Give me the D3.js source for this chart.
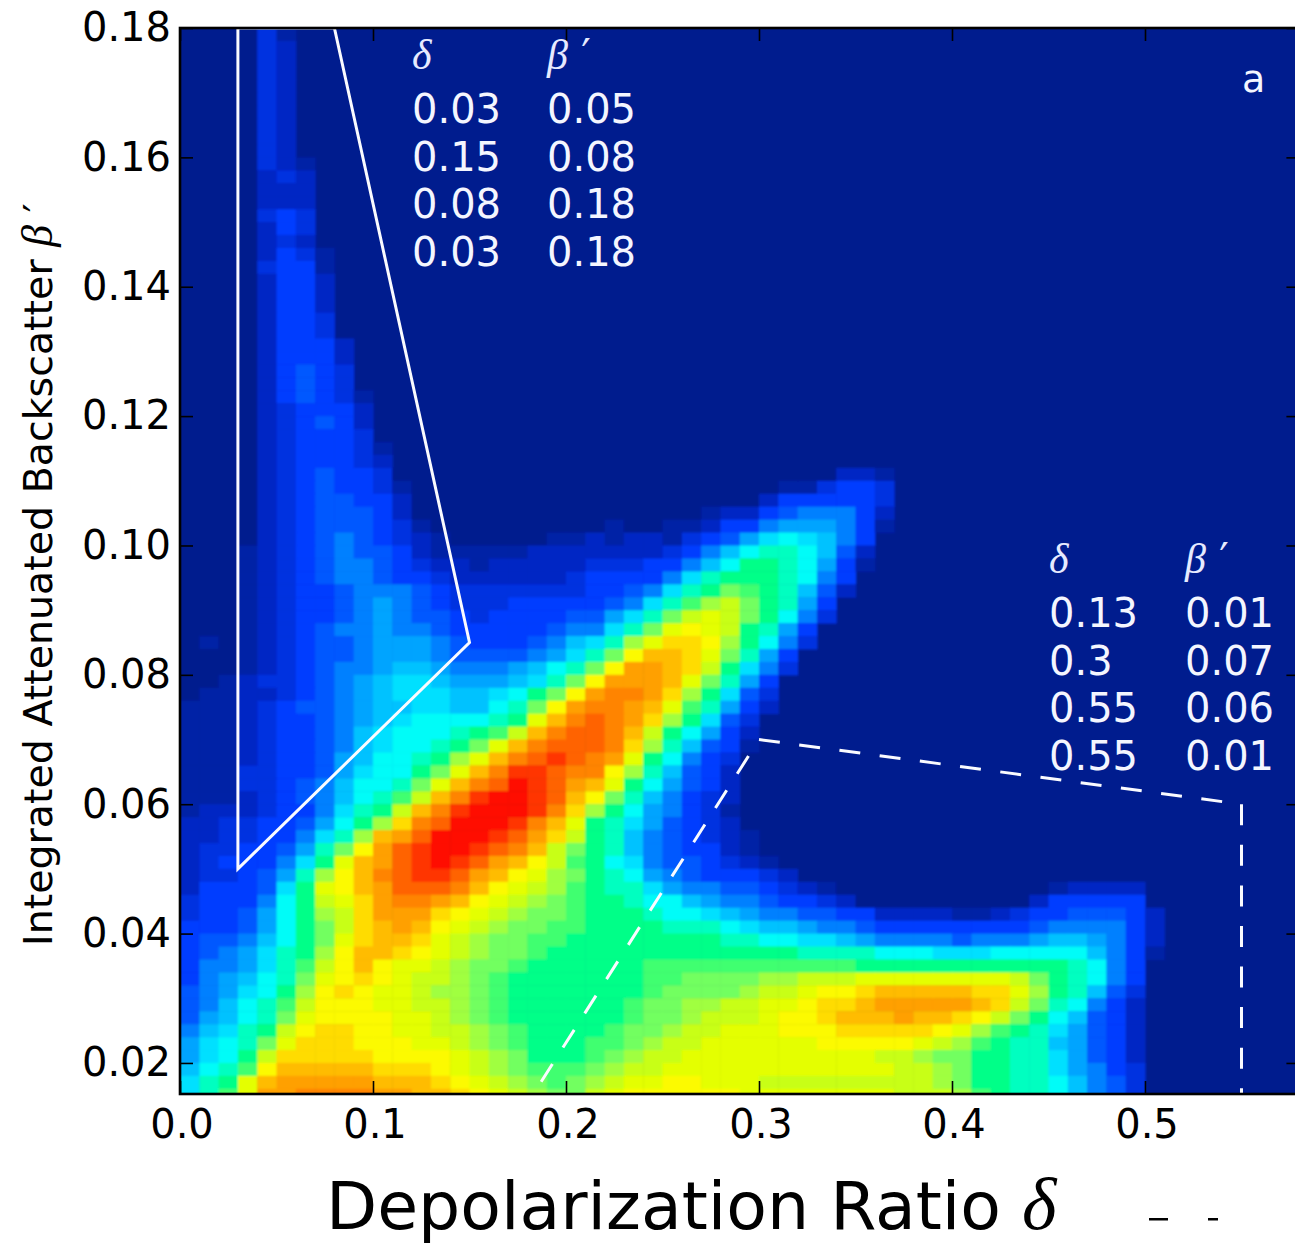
<!DOCTYPE html>
<html>
<head>
<meta charset="utf-8">
<script src="https://d3js.org/d3.v7.min.js"></script>
<style>
  html, body { margin: 0; padding: 0; background: #fff; overflow: hidden; }
  text { font-family: "DejaVu Sans", sans-serif; }
  .math { font-family: "Liberation Serif", serif; font-style: italic; }
</style>
</head>
<body>
<div id="my_dataviz"></div>
<script>
// bin counts, one string per row, top row first.
// each char is one 0.01 wide column: "." is empty, a..z is 0..25 on the colour scale
const heatRows = [
"....db",
"....dc",
"....dc",
"....dc",
"....dc",
"....dc",
"....dc",
"....dc",
"....dc",
"....dc",
"....dcb",
"....cdc",
"....ccc",
"....ccc",
"....ded",
"....ced",
"....cdc",
"....cedb",
"....deeb",
"....ceec",
"....ceec",
"....ceec",
"....ceed",
"....ceed",
"....ceeec",
"....ceeec",
"....cefed",
"....cefed",
"....cefedb",
"....cdeeec",
"....cdefec",
"....cdeeed",
"....cdeeedb",
"....cdeeedc",
"....cdefeed.........." + ".............ccb",
"....cdefeedb........." + "..........bbdeed",
"....cdeffeec........." + ".........ceeeeed",
"....cdefffec........." + "......bccefgggec",
"....cdefffedb........" + ".b..bbceeghhhgeb",
"....cdefgfedcb.....bb" + "cbccbdefhjkjige",
"...bcdefgffecbbbbbccc" + "ccccdegikllkifc",
"...bcdefggfedccbccccc" + "dddeegikmmlkheb",
"...bcdefggfeedccccccd" + "eeeegjlmmmlkge",
"...bcdeefgggfeddddddd" + "eefgjlmonmlifc",
"...bcdeefghgfedddeeee" + "efgjlnpqomlhe",
"...bcdeefghgffedeeeef" + "fhjloqrqomkgd",
"...bcdefgghggfeeeeefg" + "gjlorsrqmlhe",
".b.bcdeffghhhgfeeefgi" + "jlprttspmkgd",
"...bcdeffghhhgffffghj" + "losuutrolhe",
"...bcdefgghiihggghikl" + "osvvutqmjgd",
"..bcddefghijjihhhijlo" + "svvvurolhe",
".bbccdefghijjjiijkmos" + "vwwvtpmjfd",
"bbbcdeffghiijjiiklosv" + "wwvurnlhec",
"bbbcdeefghijkkkklmruw" + "xwvtpmjfd",
"bbbcdeefgijkkklmnquwx" + "xwuqmkhec",
"bbbcdeefgijkklmoruwxx" + "xwtplifeb",
"bbbcdeefhikklmpruwxyx" + "wvrmkged",
"bbbddeefhjkkmoruwyyxw" + "wsplifec",
"bbbddefgikkloruwxzyxv" + "urmkhfec",
"bbbcdefgiklnquwyzzyxu" + "soligedc",
"bcccdeegjlmquwyzzzywt" + "pmkhgedb",
"ccddeefhkmptwxzzzywur" + "mljhfedc",
"ccddeegjlpuvxzzzyxvtq" + "mligfedcb",
"cddeefhlosvxyzzyxwuqo" + "mligfeecb",
"cdeeegjmruvxyzyxvusqn" + "mkjgffedcb",
"cddefhlpsuwxyyxvusrpo" + "mlkhgfeeedc",
"ceeefjmrsuvxxxwusrqpn" + "mlljhggffedcb...........bcccc",
"deeegkmqrtvwwvusrqpon" + "mmlkkihggfeedc.........ceeeee",
"deefhkmpqtvvvtsrqpoon" + "mmmlkkjihggffeeccccbbcdeefffec",
"eeefhkmoqtuvusrqpoonn" + "mmmmlllkjiihggfeeeeeeeefggggec",
"effgikmortuutrqpoonnm" + "mmmmmmmllkkjjihggggfggghiihgec",
"efghjlmpsuutsrqpoonmm" + "mmmmmmmmmmmllllkkkjjjkkkkkigeb",
"egghjlnqsusrrqpoonmmm" + "mmmnnnnnnnnnnnmmmmmmmmmmmlkge",
"eghiklorstsrqqponmmmm" + "mmmnnooooppqqqrrrrrrrrqomlkge",
"fghjkmpstsrrqpponmmmm" + "mmmnoooopqqrsstuuuuuttrpmlifd",
"fgiklnqsssrrqqponmmmm" + "mmnooppqqrrsttuvvvvvutqolkgec",
"fhiklorssssrrqponmmmm" + "mmnoopqqqrsstuuuvuutsqomkifec",
"gijlmqsttssrrqqponmmm" + "mnoopqqrrrssstttttsrpnmljhfec",
"hjklortttsssrrqponmmm" + "nnopqqrrrrrrsssssrqpnmllihfec",
"hjkmqtttttssssrqpommm" + "nopqqrrrrrrrrrrqqpoommlljhfec",
"iklnsuuuuutttsrqponnn" + "opqqrrrrrrrrrrrrqqpommlljhged",
"jlmruvvvvvuuutsrqpono" + "pqrrssrrrqqqqqqqqqpommllkigfd",
"jlnrvvwwwwvvuutsrqpoo" + "qrssssssrrrrrrrrqqqpnmllkigfd"
];

// lower edge of the bottom row and the bin sizes
const binStartY = 0.014, binH = 0.002, binW = 0.01;

const xTicks = [0, 0.1, 0.2, 0.3, 0.4, 0.5];
const yTicks = [0.02, 0.04, 0.06, 0.08, 0.10, 0.12, 0.14, 0.16, 0.18];

// the two selection boxes as they are drawn
const solidDelta = [0.03, 0.15, 0.08, 0.03];
const solidBeta = [0.05, 0.085, 0.18, 0.18];
const dashDelta = [0.3, 0.55, 0.55];
const dashBeta = [0.07, 0.06, 0.01];
const dashFootDelta = [0.3, 0.172];
const dashFootBeta = [0.07, 0.01];

// tables printed inside the plot
const table1Delta = ["0.03", "0.15", "0.08", "0.03"];
const table1Beta = ["0.05", "0.08", "0.18", "0.18"];
const table2Delta = ["0.13", "0.3", "0.55", "0.55"];
const table2Beta = ["0.01", "0.07", "0.06", "0.01"];

// one colour per level a..z, matched by eye to the jet map in the source
const colours = ["#001a8e", "#0021a6", "#0028c4", "#0030e0", "#003cff", "#0058ff",
    "#0080ff", "#00a4ff", "#00c2ff", "#00e0ff", "#00fcf8", "#00ffc0", "#00ff88",
    "#40ff70", "#72ff60", "#a0ff40", "#c8ff14", "#e4ff00", "#fcfa00", "#ffdc00",
    "#ffbc00", "#ffa000", "#ff8400", "#ff6400", "#ff3400", "#ff0800"];

var margin = {top: 28, right: -4.4, bottom: 150, left: 180},
    width_graph = 1295 - margin.left - margin.right,
    height_graph = 1244 - margin.top - margin.bottom;

var svg = d3.select("#my_dataviz")
  .append("svg")
    .attr("width", 1295)
    .attr("height", 1244)
    .style("display", "block");

var defs = svg.append("defs");

// the source is an upscaled bitmap, so the cells have soft edges
defs.append("filter")
    .attr("id", "softCells")
    .attr("filterUnits", "userSpaceOnUse")
    .attr("x", -10).attr("y", -10)
    .attr("width", width_graph + 20).attr("height", height_graph + 20)
  .append("feGaussianBlur")
    .attr("stdDeviation", 1.1);

defs.append("clipPath")
    .attr("id", "plotClip")
  .append("rect")
    .attr("width", width_graph)
    .attr("height", height_graph);

var page = svg.append("g");
page.append("rect").attr("width", 1295).attr("height", 1244).attr("fill", "#fff");

var g = page.append("g")
    .attr("transform", "translate(" + margin.left + "," + margin.top + ")");

const xScale = d3.scaleLinear().domain([0, 0.58]).range([0, width_graph]);
const yScale = d3.scaleLinear().domain([0.0152, 0.18]).range([height_graph, 0]);
const colourScale = d3.scaleLinear().domain(d3.range(colours.length)).range(colours);

// flatten the rows into cells
var cells = [];
heatRows.forEach(function(row, i) {
    var r = heatRows.length - 1 - i;
    for (var c = 0; c < row.length; c++) {
        var v = row[c] === "." ? 0 : row.charCodeAt(c) - 97;
        cells.push({col: c, row: r, value: v});
    }
});

var plot = g.append("g").attr("clip-path", "url(#plotClip)");

var cellLayer = plot.append("g").attr("filter", "url(#softCells)");

cellLayer.append("rect")
    .attr("x", -10).attr("y", -10)
    .attr("width", width_graph + 20)
    .attr("height", height_graph + 20)
    .attr("fill", colourScale(0));

cellLayer.selectAll("rect.cell")
    .data(cells)
    .join("rect")
    .attr("class", "cell")
    .attr("x", d => xScale(d.col * binW))
    .attr("y", d => yScale(binStartY + (d.row + 1) * binH))
    .attr("width", xScale(binW) - xScale(0) + 0.5)
    .attr("height", yScale(0.03) - yScale(0.03 + binH) + 0.5)
    .attr("fill", d => colourScale(d.value));

// selection boxes
var line = d3.line()
    .x(d => xScale(d[0]))
    .y(d => yScale(d[1]));

plot.append("path")
    .attr("d", line(d3.zip(solidDelta, solidBeta)) + "Z")
    .attr("fill", "none")
    .attr("stroke", "#fafbff")
    .attr("stroke-width", 3);

plot.append("path")
    .attr("d", line(d3.zip(dashDelta, dashBeta)))
    .attr("fill", "none")
    .attr("stroke", "#fafbff")
    .attr("stroke-width", 3)
    .attr("stroke-dasharray", "21 19.57");

// drawn outward from the shared corner, so it begins on the gap
plot.append("path")
    .attr("d", line(d3.zip(dashFootDelta, dashFootBeta)))
    .attr("fill", "none")
    .attr("stroke", "#fafbff")
    .attr("stroke-width", 3)
    .attr("stroke-dasharray", "21 19.57")
    .attr("stroke-dashoffset", 21);

// axes, matplotlib style: ticks point inward on all four sides
function styleAxis(sel) {
    sel.select(".domain").remove();
    sel.selectAll(".tick line").attr("stroke", "#000").attr("stroke-width", 1.6);
    sel.selectAll(".tick text").attr("fill", "#000").style("font-size", "40px");
}

g.append("g")
    .attr("transform", "translate(0," + height_graph + ")")
    .call(d3.axisBottom(xScale).tickValues(xTicks).tickFormat(d3.format(".1f")).tickSize(-13).tickPadding(16))
    .call(styleAxis)
    .selectAll(".tick text").attr("dx", 1.5);

g.append("g")
    .call(d3.axisTop(xScale).tickValues(xTicks).tickFormat("").tickSize(-13))
    .call(styleAxis);

g.append("g")
    .call(d3.axisLeft(yScale).tickValues(yTicks).tickFormat(d3.format(".2f")).tickSize(-13).tickPadding(9))
    .call(styleAxis);

g.selectAll(".tick text").attr("font-family", null);

g.append("g")
    .attr("transform", "translate(" + width_graph + ",0)")
    .call(d3.axisRight(yScale).tickValues(yTicks).tickFormat("").tickSize(-13))
    .call(styleAxis);

g.append("rect")
    .attr("width", width_graph)
    .attr("height", height_graph)
    .attr("fill", "none")
    .attr("stroke", "#000")
    .attr("stroke-width", 2.6);

// axis labels
var xLabel = page.append("text")
    .attr("x", 326)
    .attr("y", 1229)
    .attr("fill", "#000")
    .style("font-size", "66.5px")
    .text("Depolarization Ratio ");
xLabel.append("tspan").attr("class", "math").style("font-size", "74px").text("δ");

var yLabel = page.append("text")
    .attr("transform", "translate(52,946) rotate(-90)")
    .attr("fill", "#000")
    .style("font-size", "39.5px")
    .text("Integrated Attenuated Backscatter ");
yLabel.append("tspan").attr("class", "math").style("font-size", "44px").text("β");
yLabel.append("tspan").text(" ′");

// value tables
function drawTable(x1, x2, headY, firstY, col1, col2) {
    page.append("text").attr("class", "math").attr("x", x1).attr("y", headY)
        .attr("fill", "#e6eaff").style("font-size", "42px").text("δ");
    var head2 = page.append("text").attr("class", "math").attr("x", x2).attr("y", headY)
        .attr("fill", "#e6eaff").style("font-size", "42px").text("β");
    head2.append("tspan").style("font-family", "DejaVu Sans").style("font-style", "normal").text(" ′");
    col1.forEach(function(t, i) {
        page.append("text").attr("x", x1).attr("y", firstY + i * 47.5)
            .attr("fill", "#f4f6ff").style("font-size", "40px").text(t);
        page.append("text").attr("x", x2).attr("y", firstY + i * 47.5)
            .attr("fill", "#f4f6ff").style("font-size", "40px").text(col2[i]);
    });
}

drawTable(412, 547, 69, 123, table1Delta, table1Beta);
drawTable(1049, 1185, 573, 627, table2Delta, table2Beta);

page.append("text")
    .attr("x", 1242)
    .attr("y", 92)
    .attr("fill", "#f4f6ff")
    .style("font-size", "38px")
    .text("a");

// tops of some cropped-off text at the very bottom of the source
page.append("rect").attr("x", 1149).attr("y", 1218).attr("width", 19).attr("height", 2.5).attr("fill", "#000");
page.append("rect").attr("x", 1208).attr("y", 1218).attr("width", 10).attr("height", 2.5).attr("fill", "#000");
</script>
</body>
</html>
